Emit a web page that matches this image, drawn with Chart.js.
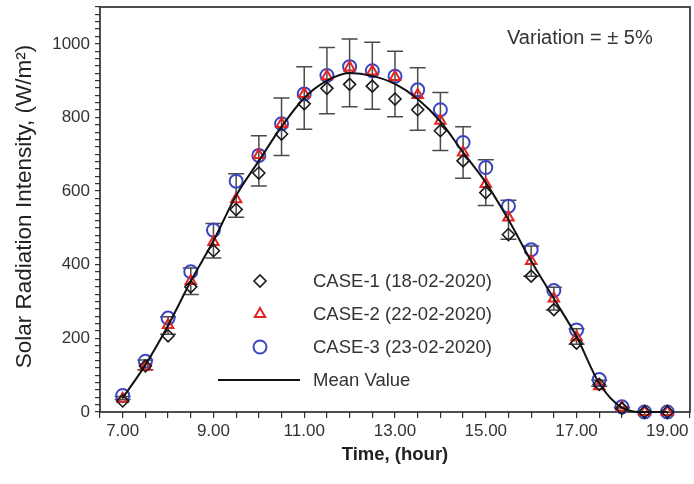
<!DOCTYPE html>
<html>
<head>
<meta charset="utf-8">
<script src="https://cdn.jsdelivr.net/npm/chart.js@4"></script>
<style>
  html, body { margin: 0; padding: 0; background: #fff; overflow: hidden; }
  canvas { display: block; }
</style>
</head>
<body>
<canvas id="c" width="694" height="484"></canvas>
<script>
// Time of day (hours)
const hours = [7.0, 7.5, 8.0, 8.5, 9.0, 9.5, 10.0, 10.5, 11.0, 11.5, 12.0, 12.5, 13.0,
               13.5, 14.0, 14.5, 15.0, 15.5, 16.0, 16.5, 17.0, 17.5, 18.0, 18.5, 19.0];

// Measured solar radiation intensity (W/m²)
const case1 = [30, 125, 207, 340, 438, 550, 649, 755, 837, 879, 890, 885, 850,
               821, 764, 682, 596, 482, 369, 278, 187, 75, 10, 0, 0];
const case2 = [36, 123, 236, 356, 462, 578, 698, 782, 864, 912, 936, 925, 910,
               861, 791, 705, 619, 528, 410, 308, 203, 70, 12, 0, 0];
const case3 = [45, 138, 255, 381, 494, 627, 697, 783, 864, 914, 938, 927, 912,
               875, 821, 732, 664, 559, 441, 330, 223, 88, 14, 0, 0];
const meanValue = [38, 128, 235, 355, 465, 588, 682, 775, 853, 900, 921, 913, 891,
                   850, 789, 705, 623, 522, 410, 308, 205, 78, 12, 0, 0];
// Error bar half-heights around the mean
const errorBar = [4, 13, 24, 36, 47, 59, 68, 78, 85, 90, 92, 91, 89,
                  85, 79, 70, 62, 53, 41, 31, 21, 8, 1, 0, 0];

const seriesLabels = ['CASE-1 (18-02-2020)', 'CASE-2 (22-02-2020)', 'CASE-3 (23-02-2020)', 'Mean Value'];
const xTickLabels = [7, 9, 11, 13, 15, 17, 19];
const yTickLabels = [0, 200, 400, 600, 800, 1000];

const FONT = "'Liberation Sans', Arial, Helvetica, sans-serif";
Chart.defaults.font.family = FONT;

const pts = arr => hours.map((h, i) => ({ x: h, y: arr[i] }));

const markerSet = [
  { label: seriesLabels[0], data: pts(case1), pointStyle: 'rectRot', radius: 6, color: '#1a1a1a', bw: 1.6, order: 2 },
  { label: seriesLabels[1], data: pts(case2), pointStyle: 'triangle', radius: 6, color: '#e3241f', bw: 2, order: 3 },
  { label: seriesLabels[2], data: pts(case3), pointStyle: 'circle', radius: 6.5, color: '#3b45c2', bw: 2, order: 4 }
];

const datasets = markerSet.map(m => ({
  label: m.label,
  data: m.data,
  showLine: false,
  pointStyle: m.pointStyle,
  pointRadius: m.radius,
  pointHoverRadius: m.radius,
  pointBorderColor: m.color,
  pointBackgroundColor: 'rgba(0,0,0,0)',
  pointBorderWidth: m.bw,
  borderColor: m.color,
  backgroundColor: 'rgba(0,0,0,0)',
  clip: false,
  order: m.order
}));

datasets.push({
  label: seriesLabels[3],
  data: pts(meanValue),
  borderColor: '#111',
  borderWidth: 2,
  pointRadius: 0,
  fill: false,
  cubicInterpolationMode: 'monotone',
  clip: false,
  order: 1
});

// Frame, error bars, in-plot legend, annotation and axis titles
const decorations = {
  id: 'decorations',
  beforeDatasetsDraw(chart) {
    const { ctx, chartArea: a, scales: { x, y } } = chart;
    ctx.save();
    ctx.strokeStyle = '#222';
    ctx.lineWidth = 1.6;
    ctx.strokeRect(a.left, a.top, a.right - a.left, a.bottom - a.top);

    ctx.strokeStyle = '#4a4a4a';
    ctx.lineWidth = 1.5;
    const cap = 8;
    hours.forEach((h, i) => {
      if (!errorBar[i]) return;
      const px = x.getPixelForValue(h);
      const y1 = y.getPixelForValue(meanValue[i] + errorBar[i]);
      const y2 = y.getPixelForValue(meanValue[i] - errorBar[i]);
      ctx.beginPath();
      ctx.moveTo(px, y1); ctx.lineTo(px, y2);
      ctx.moveTo(px - cap, y1); ctx.lineTo(px + cap, y1);
      ctx.moveTo(px - cap, y2); ctx.lineTo(px + cap, y2);
      ctx.stroke();
    });
    ctx.restore();
  },
  afterDraw(chart) {
    const { ctx, chartArea: a } = chart;
    ctx.save();

    // legend inside the plot
    const mx = a.left + 160, tx = a.left + 213;
    const rows = [a.top + 274, a.top + 307, a.top + 340, a.top + 373];
    markerSet.forEach((m, i) => {
      ctx.strokeStyle = m.color;
      ctx.fillStyle = 'rgba(0,0,0,0)';
      ctx.lineWidth = m.bw;
      Chart.helpers.drawPoint(ctx, { pointStyle: m.pointStyle, radius: m.radius, rotation: 0, borderWidth: m.bw }, mx, rows[i]);
    });
    ctx.strokeStyle = '#111';
    ctx.lineWidth = 2;
    ctx.beginPath();
    ctx.moveTo(a.left + 118, rows[3]);
    ctx.lineTo(a.left + 200, rows[3]);
    ctx.stroke();

    ctx.fillStyle = '#333';
    ctx.font = `18.5px ${FONT}`;
    ctx.textAlign = 'left';
    ctx.textBaseline = 'middle';
    seriesLabels.forEach((t, i) => ctx.fillText(t, tx, rows[i] + 1));

    // variation note
    ctx.font = `20px ${FONT}`;
    ctx.fillText('Variation = \u00B1 5%', a.left + 407, a.top + 31);

    // axis titles
    ctx.fillStyle = '#222';
    ctx.font = `bold 18.5px ${FONT}`;
    ctx.textAlign = 'center';
    ctx.textBaseline = 'alphabetic';
    ctx.fillText('Time, (hour)', (a.left + a.right) / 2, 460);

    ctx.font = `22.5px ${FONT}`;
    ctx.translate(31, 206.5);
    ctx.rotate(-Math.PI / 2);
    ctx.fillText('Solar Radiation Intensity, (W/m\u00B2)', 0, 0);
    ctx.restore();
  }
};

new Chart(document.getElementById('c'), {
  type: 'line',
  data: { datasets },
  options: {
    responsive: false,
    animation: false,
    events: [],
    layout: { autoPadding: false, padding: { top: 7, right: 4, left: 0, bottom: 0 } },
    plugins: { legend: { display: false }, tooltip: { enabled: false } },
    scales: {
      x: {
        type: 'linear',
        min: 6.5,
        max: 19.5,
        border: { display: false },
        grid: { drawOnChartArea: false, drawTicks: true, tickLength: 6, color: '#333', lineWidth: 1.2 },
        ticks: {
          stepSize: 0.5,
          autoSkip: false,
          maxRotation: 0,
          padding: 3,
          color: '#333',
          font: { size: 17 },
          callback: v => xTickLabels.some(t => Math.abs(t - v) < 1e-6) ? Number(v).toFixed(2) : ''
        },
        afterFit: s => { s.height = 72; s.paddingLeft = 0; s.paddingRight = 0; }
      },
      y: {
        type: 'linear',
        min: 0,
        max: 1100,
        border: { display: false },
        grid: { drawOnChartArea: false, drawTicks: true, tickLength: 5, color: '#333', lineWidth: 1.2 },
        ticks: {
          stepSize: 20,
          autoSkip: false,
          padding: 5,
          color: '#333',
          font: { size: 17 },
          callback: v => yTickLabels.includes(Math.round(v)) && Math.abs(v - Math.round(v)) < 1e-6 ? String(Math.round(v)) : ''
        },
        afterFit: s => { s.width = 100; s.paddingTop = 0; s.paddingBottom = 0; }
      }
    }
  },
  plugins: [decorations]
});
</script>
</body>
</html>
